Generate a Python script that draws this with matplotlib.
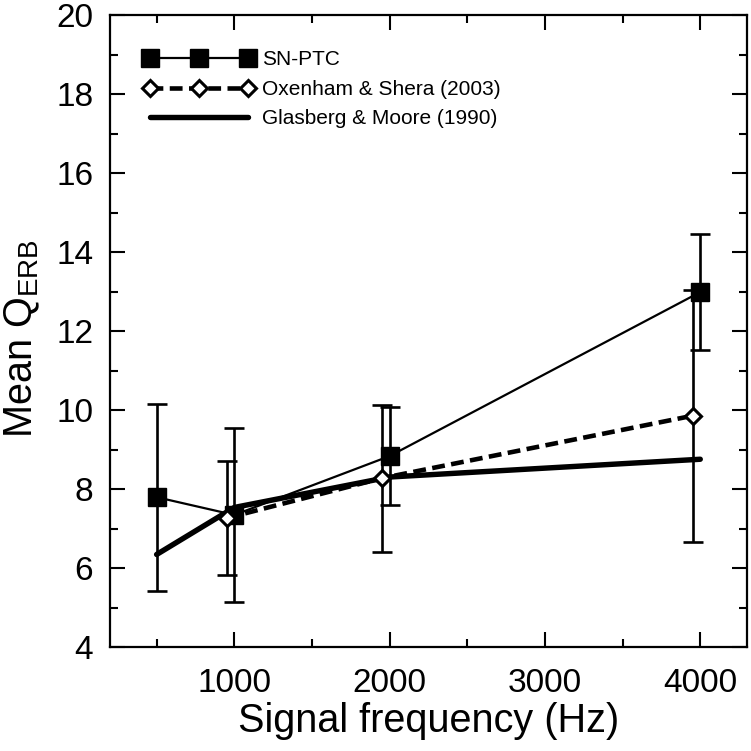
import matplotlib
matplotlib.use("Agg")
from matplotlib import pyplot as plt
from matplotlib.ticker import MultipleLocator

plt.rcParams['font.family'] = ['Liberation Sans', 'DejaVu Sans']

# SN-PTC (this study)
ptc_freq = [500, 1000, 2000, 4000]
ptc_q = [7.80, 7.35, 8.84, 12.99]
ptc_sd = [2.37, 2.19, 1.23, 1.47]

# Oxenham & Shera (2003), drawn slightly offset
ox_freq = [950, 1950, 3950]
ox_q = [7.27, 8.28, 9.86]
ox_sd = [1.44, 1.86, 3.19]

# Glasberg & Moore (1990)
gm_freq = [500, 1000, 2000, 4000]
gm_q = [6.35, 7.54, 8.31, 8.76]


def main():
    fig = plt.figure(figsize=(7.51, 7.51), dpi=100)
    ax = fig.add_axes([0.1465, 0.138, 0.848, 0.842])

    ax.errorbar(ox_freq, ox_q, yerr=ox_sd, fmt='none', ecolor='black',
                elinewidth=1.9, capsize=7, capthick=1.9, zorder=2)
    ax.errorbar(ptc_freq, ptc_q, yerr=ptc_sd, fmt='none', ecolor='black',
                elinewidth=1.9, capsize=7, capthick=1.9, zorder=2)

    ax.plot(ptc_freq, ptc_q, color='black', lw=1.6, marker='s',
            markersize=13, label='SN-PTC', zorder=4)
    ax.plot(ox_freq, ox_q, color='black', lw=3.3, ls=(0, (2.8, 1.4)),
            marker='D', markersize=8, markerfacecolor='white',
            markeredgewidth=2.2, label='Oxenham & Shera (2003)', zorder=5)
    ax.plot(gm_freq, gm_q, color='black', lw=3.9, solid_capstyle='round',
            label='Glasberg & Moore (1990)', zorder=3)

    ax.set_xlim(200, 4300)
    ax.set_ylim(4, 20)
    ax.xaxis.set_major_locator(MultipleLocator(1000))
    ax.xaxis.set_minor_locator(MultipleLocator(500))
    ax.yaxis.set_major_locator(MultipleLocator(2))
    ax.yaxis.set_minor_locator(MultipleLocator(1))
    ax.tick_params(which='both', direction='in', top=True, right=True,
                   width=1.5, labelsize=24)
    ax.tick_params(axis='x', which='both', pad=15)
    ax.tick_params(axis='y', which='both', pad=12)
    ax.tick_params(which='major', length=11)
    ax.tick_params(which='minor', length=6)
    for sp in ax.spines.values():
        sp.set_linewidth(1.6)

    ax.set_xlabel('Signal frequency (Hz)', fontsize=28.5, labelpad=2)
    ax.set_ylabel(r'Mean Q$_{\mathregular{ERB}}$', fontsize=28.5, labelpad=10)
    ax.yaxis.label.set_y(0.489)

    ax.legend(loc='upper left', frameon=False, fontsize=15, numpoints=3,
              handlelength=5.28, handletextpad=0.4, labelspacing=0.5,
              borderpad=0, borderaxespad=0, bbox_to_anchor=(0.053, 0.944))

    fig.savefig('out.png', dpi=100)
    plt.close(fig)


if __name__ == "__main__":
    main()
